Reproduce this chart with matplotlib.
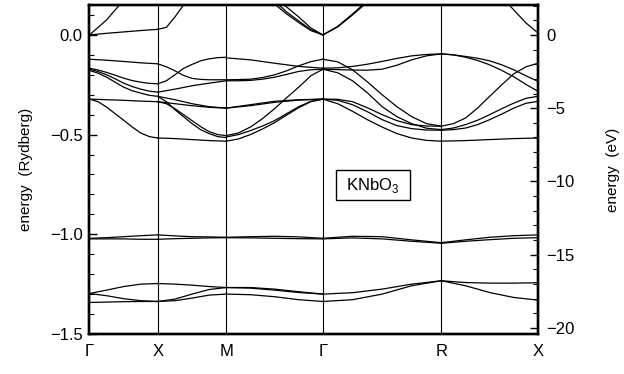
import matplotlib
matplotlib.use('Agg')
import matplotlib.pyplot as plt
import numpy as np
from matplotlib.patches import Rectangle
from matplotlib.ticker import MultipleLocator

plt.rcParams['font.family'] = ['Liberation Sans', 'DejaVu Sans']
plt.rcParams['mathtext.fontset'] = 'custom'
plt.rcParams['mathtext.rm'] = 'Liberation Sans'

RY_TO_EV = 13.6057

# high-symmetry points along the k path (cumulative distance, units of 2pi/a)
k_nodes = [0.0, 0.5, 1.0, 1.7071, 2.5731, 3.2802]
k_labels = ['Γ', 'X', 'M', 'Γ', 'R', 'X']

# band energies (Ry), read at evenly spaced points along each segment
seg_GX = [
    [0.0, 0.008, 0.015, 0.022, 0.028],
    [0.0, 0.075, 0.175, 0.28, 0.38],
    [-0.122, -0.127, -0.133, -0.14, -0.145],
    [-0.167, -0.176, -0.188, -0.202, -0.217, -0.229, -0.237, -0.243, -0.245],
    [-0.172, -0.184, -0.2, -0.22, -0.242, -0.259, -0.272, -0.282, -0.287],
    [-0.178, -0.192, -0.212, -0.237, -0.262, -0.28, -0.292, -0.303, -0.308],
    [-0.322, -0.325, -0.328, -0.332, -0.335],
    [-0.322, -0.335, -0.362, -0.395, -0.428, -0.462, -0.492, -0.51, -0.517],
    [-1.02, -1.017, -1.012, -1.007, -1.003],
    [-1.023, -1.023, -1.023, -1.025, -1.025],
    [-1.297, -1.28, -1.262, -1.25, -1.247],
    [-1.297, -1.308, -1.323, -1.333, -1.337],
    [-1.342, -1.34, -1.338, -1.337, -1.337],
]
seg_XM = [
    [0.028, 0.038, 0.09, 0.15, 0.21, 0.27, 0.33, 0.39, 0.45],
    [-0.145, -0.16, -0.18, -0.203, -0.218, -0.223, -0.225, -0.225, -0.225],
    [-0.245, -0.23, -0.2, -0.168, -0.148, -0.13, -0.12, -0.114, -0.112],
    [-0.287, -0.272, -0.255, -0.242, -0.23],
    [-0.308, -0.325, -0.345, -0.36, -0.367],
    [-0.335, -0.345, -0.355, -0.363, -0.367],
    [-0.335, -0.345, -0.37, -0.4, -0.43, -0.46, -0.485, -0.5, -0.505],
    [-0.308, -0.335, -0.375, -0.41, -0.445, -0.475, -0.495, -0.51, -0.515],
    [-0.517, -0.52, -0.525, -0.53, -0.533],
    [-1.003, -1.008, -1.012, -1.013, -1.015],
    [-1.025, -1.022, -1.02, -1.018, -1.017],
    [-1.247, -1.25, -1.255, -1.262, -1.267],
    [-1.337, -1.325, -1.3, -1.277, -1.267],
    [-1.337, -1.333, -1.32, -1.305, -1.3],
]
seg_MG = [
    [0.5, 0.4, 0.3, 0.22, 0.155, 0.105, 0.062, 0.022, 0.0],
    [0.52, 0.42, 0.32, 0.24, 0.17, 0.115, 0.07, 0.026, 0.0],
    [0.55, 0.45, 0.35, 0.27, 0.2, 0.14, 0.09, 0.035, 0.0],
    [-0.115, -0.125, -0.142, -0.158, -0.167],
    [-0.225, -0.224, -0.222, -0.214, -0.2, -0.18, -0.155, -0.134, -0.122],
    [-0.23, -0.23, -0.228, -0.222, -0.212, -0.198, -0.183, -0.175, -0.172],
    [-0.367, -0.35, -0.333, -0.325, -0.322],
    [-0.367, -0.355, -0.338, -0.327, -0.322],
    [-0.505, -0.492, -0.462, -0.42, -0.37, -0.315, -0.262, -0.205, -0.172],
    [-0.512, -0.5, -0.48, -0.457, -0.43, -0.395, -0.36, -0.333, -0.322],
    [-0.533, -0.522, -0.5, -0.472, -0.44, -0.402, -0.365, -0.335, -0.322],
    [-1.015, -1.012, -1.01, -1.013, -1.02],
    [-1.017, -1.018, -1.02, -1.022, -1.023],
    [-1.267, -1.267, -1.275, -1.288, -1.3],
    [-1.267, -1.27, -1.28, -1.292, -1.3],
    [-1.3, -1.303, -1.313, -1.328, -1.337],
]
seg_GR = [
    [0.0, 0.04, 0.1, 0.165, 0.23, 0.3, 0.37, 0.44, 0.51],
    [0.0, 0.043, 0.105, 0.17, 0.24, 0.31, 0.38, 0.45, 0.52],
    [-0.167, -0.165, -0.158, -0.147, -0.133, -0.118, -0.105, -0.098, -0.095],
    [-0.172, -0.174, -0.176, -0.177, -0.172, -0.152, -0.125, -0.105, -0.095],
    [-0.122, -0.135, -0.175, -0.235, -0.30, -0.36, -0.41, -0.445, -0.458],
    [-0.172, -0.19, -0.23, -0.29, -0.36, -0.41, -0.445, -0.468, -0.475],
    [-0.322, -0.323, -0.335, -0.365, -0.4, -0.43, -0.45, -0.457, -0.458],
    [-0.322, -0.328, -0.35, -0.385, -0.425, -0.455, -0.47, -0.477, -0.478],
    [-0.322, -0.345, -0.383, -0.425, -0.462, -0.495, -0.517, -0.529, -0.533],
    [-1.02, -1.01, -1.012, -1.028, -1.042],
    [-1.023, -1.018, -1.023, -1.035, -1.045],
    [-1.3, -1.293, -1.275, -1.25, -1.233],
    [-1.337, -1.328, -1.3, -1.258, -1.233],
]
seg_RX = [
    [0.55, 0.48, 0.41, 0.33, 0.26, 0.19, 0.125, 0.06, 0.01],
    [-0.095, -0.1, -0.112, -0.128, -0.15, -0.178, -0.21, -0.248, -0.283],
    [-0.095, -0.1, -0.108, -0.117, -0.13, -0.15, -0.175, -0.205, -0.233],
    [-0.458, -0.445, -0.417, -0.367, -0.308, -0.25, -0.195, -0.16, -0.142],
    [-0.475, -0.467, -0.45, -0.428, -0.4, -0.37, -0.342, -0.318, -0.308],
    [-0.478, -0.475, -0.467, -0.45, -0.425, -0.397, -0.367, -0.343, -0.333],
    [-0.533, -0.53, -0.525, -0.52, -0.517],
    [-1.042, -1.028, -1.015, -1.007, -1.003],
    [-1.045, -1.035, -1.027, -1.02, -1.017],
    [-1.233, -1.242, -1.245, -1.245, -1.243],
    [-1.233, -1.258, -1.292, -1.317, -1.33],
]
segments = [seg_GX, seg_XM, seg_MG, seg_GR, seg_RX]

fig = plt.figure(figsize=(6.24, 3.74), dpi=100)
ax = fig.add_axes([0.1434, 0.107, 0.7188, 0.8796])

for i, seg in enumerate(segments):
    for band in seg:
        ks = np.linspace(k_nodes[i], k_nodes[i + 1], len(band))
        ax.plot(ks, band, color='black', lw=0.9)

for k in k_nodes[1:-1]:
    ax.axvline(k, color='black', lw=0.8)

ylim = (-1.5, 0.15)
ax.set_xlim(k_nodes[0], k_nodes[-1])
ax.set_ylim(*ylim)
ax.set_xticks(k_nodes, k_labels)
ax.tick_params(axis='x', length=0, pad=7, labelsize=12)
ax.set_yticks([0.0, -0.5, -1.0, -1.5])
ax.set_yticklabels(['0.0', '\u22120.5', '\u22121.0', '\u22121.5'])
ax.yaxis.set_minor_locator(MultipleLocator(0.1))
ax.tick_params(axis='y', which='major', direction='in', length=6, width=1, labelsize=12, pad=5)
ax.tick_params(axis='y', which='minor', direction='in', length=3.5, width=0.8)
ax.set_ylabel('energy  (Rydberg)', fontsize=11)
ax.yaxis.set_label_coords(-0.125, 0.5)

ax2 = ax.twinx()
ax2.set_ylim(ylim[0] * RY_TO_EV, ylim[1] * RY_TO_EV)
ax2.set_yticks([0, -5, -10, -15, -20])
ax2.set_yticklabels(['0', '\u22125', '\u221210', '\u221215', '\u221220'])
ax2.yaxis.set_minor_locator(MultipleLocator(1))
ax2.tick_params(axis='y', which='major', direction='in', length=6, width=1, labelsize=12, pad=6)
ax2.tick_params(axis='y', which='minor', direction='in', length=3.5, width=0.8)
ax2.set_ylabel('energy  (eV)', fontsize=11)
ax2.yaxis.set_label_coords(1.152, 0.5)

for a in (ax, ax2):
    for s in a.spines.values():
        s.set_linewidth(1.7)

# compound label box
ax.add_patch(Rectangle((1.803, -0.83), 0.542, 0.15, fill=True, fc='white',
                       ec='black', lw=1, zorder=5))
ax.text(2.074, -0.755, 'KNbO$_3$', ha='center', va='center', fontsize=12, zorder=6)

fig.savefig('out.png', dpi=100)
